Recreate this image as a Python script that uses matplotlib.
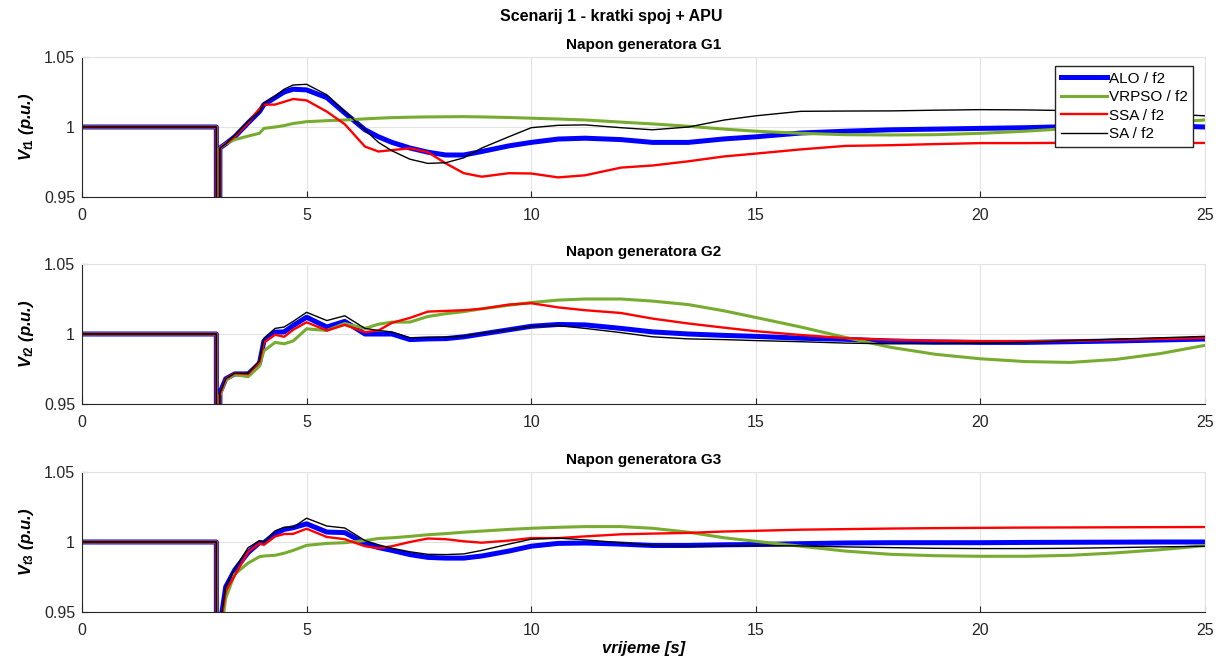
import numpy as np
import matplotlib
matplotlib.use("Agg")
import matplotlib.pyplot as plt

plt.rcParams['font.family'] = ['Liberation Sans', 'DejaVu Sans']
plt.rcParams['mathtext.fontset'] = 'custom'
plt.rcParams['mathtext.it'] = 'Liberation Sans:italic:bold'
plt.rcParams['mathtext.rm'] = 'Liberation Sans:bold'
plt.rcParams['mathtext.bf'] = 'Liberation Sans:bold'

# time samples (s)
t = [0, 2.99, 3.0, 3.05, 3.07, 3.2, 3.4, 3.7, 3.95, 4.05, 4.3, 4.5, 4.7, 5.0, 5.45, 5.85,
     6.3, 6.6, 6.9, 7.3, 7.7, 8.1, 8.5, 8.9, 9.5, 10.0, 10.6, 11.2, 12.0, 12.7, 13.5, 14.3,
     15.0, 16.0, 17.0, 18.0, 19.0, 20.0, 21.0, 22.0, 23.0, 24.0, 25.0]

# Generator G1
g1_alo = [1, 1, 0.3, 0.3, 0.985, 0.988, 0.993, 1.003, 1.011, 1.016, 1.021, 1.025, 1.027, 1.0265, 1.021, 1.010,
          0.998, 0.993, 0.989, 0.985, 0.982, 0.980, 0.980, 0.9825, 0.9865, 0.989, 0.9914, 0.992, 0.991, 0.989, 0.989, 0.9915,
          0.993, 0.9957, 0.997, 0.998, 0.9985, 0.999, 0.9995, 1.0003, 1.0007, 1.001, 1.0]
g1_vrpso = [1, 1, 0.3, 0.3, 0.985, 0.988, 0.991, 0.9935, 0.9955, 0.999, 1.0, 1.001, 1.0025, 1.0038, 1.0045, 1.005,
            1.0058, 1.0063, 1.0067, 1.007, 1.0072, 1.0073, 1.0074, 1.0072, 1.0068, 1.0063, 1.0057, 1.005, 1.0035, 1.0022, 1.0005, 0.9985,
            0.997, 0.9955, 0.9945, 0.9943, 0.9945, 0.9955, 0.997, 0.999, 1.001, 1.003, 1.005]
g1_ssa = [1, 1, 0.3, 0.3, 0.985, 0.988, 0.993, 1.003, 1.013, 1.016, 1.016, 1.018, 1.020, 1.019, 1.011, 1.002,
          0.986, 0.9825, 0.9835, 0.9848, 0.982, 0.974, 0.967, 0.9645, 0.967, 0.9668, 0.964, 0.9655, 0.971, 0.9725, 0.9755, 0.979,
          0.981, 0.984, 0.9865, 0.987, 0.9878, 0.9885, 0.9885, 0.9887, 0.9887, 0.9886, 0.9886]
g1_sa = [1, 1, 0.3, 0.3, 0.985, 0.988, 0.994, 1.004, 1.011, 1.017, 1.022, 1.027, 1.030, 1.0305, 1.023, 1.011,
         0.998, 0.989, 0.983, 0.977, 0.974, 0.9745, 0.978, 0.985, 0.993, 0.9995, 1.0012, 1.0015, 0.9995, 0.998, 1.0, 1.005,
         1.008, 1.0112, 1.0114, 1.0115, 1.012, 1.0124, 1.0122, 1.0117, 1.011, 1.0095, 1.008]

# Generator G2
g2_alo = [1, 1, 0.3, 0.3, 0.958, 0.968, 0.9715, 0.9715, 0.979, 0.995, 1.0013, 1.0015, 1.006, 1.012, 1.005, 1.009,
          1.0, 1.0, 1.0, 0.996, 0.9965, 0.9967, 0.998, 1.0, 1.003, 1.0055, 1.0068, 1.0065, 1.004, 1.0015, 1.0, 0.999,
          0.9983, 0.997, 0.9962, 0.995, 0.9943, 0.994, 0.994, 0.9945, 0.995, 0.9957, 0.9964]
g2_vrpso = [1, 1, 0.3, 0.3, 0.956, 0.967, 0.971, 0.9695, 0.977, 0.988, 0.994, 0.993, 0.995, 1.0037, 1.0025, 1.0075,
            1.004, 1.007, 1.0085, 1.0085, 1.0125, 1.0145, 1.016, 1.018, 1.0205, 1.0225, 1.0242, 1.025, 1.025, 1.0235, 1.021, 1.0165,
            1.0118, 1.005, 0.9975, 0.9905, 0.9855, 0.9823, 0.9803, 0.9797, 0.9818, 0.986, 0.9919]
g2_ssa = [1, 1, 0.3, 0.3, 0.957, 0.968, 0.972, 0.9715, 0.980, 0.994, 0.9995, 0.998, 1.003, 1.0084, 1.0025, 1.0065,
          1.0013, 1.0025, 1.008, 1.0115, 1.016, 1.0165, 1.017, 1.018, 1.021, 1.022, 1.019, 1.017, 1.015, 1.011, 1.0075, 1.0045,
          1.002, 0.9993, 0.997, 0.9958, 0.9952, 0.9948, 0.9948, 0.995, 0.9958, 0.9965, 0.9972]
g2_sa = [1, 1, 0.3, 0.3, 0.958, 0.968, 0.972, 0.972, 0.981, 0.997, 1.004, 1.005, 1.009, 1.0155, 1.0096, 1.013,
         1.004, 1.0025, 1.0015, 0.9973, 0.9975, 0.9977, 0.9985, 1.0005, 1.003, 1.0055, 1.006, 1.004, 1.001, 0.998, 0.9965, 0.996,
         0.9953, 0.9945, 0.9935, 0.993, 0.993, 0.9935, 0.994, 0.9952, 0.9963, 0.9973, 0.9983]

# Generator G3
g3_alo = [1, 1, 0.3, 0.3, 0.940, 0.968, 0.980, 0.9925, 0.9995, 0.9995, 1.006, 1.009, 1.0102, 1.013, 1.0071, 1.0067,
          0.999, 0.996, 0.994, 0.991, 0.989, 0.9885, 0.9885, 0.990, 0.9935, 0.997, 0.999, 0.9993, 0.9985, 0.9975, 0.9975, 0.998,
          0.9982, 0.9988, 0.9993, 0.9995, 0.9995, 0.9995, 0.9997, 0.9998, 0.9999, 1.0, 1.0]
g3_vrpso = [1, 1, 0.3, 0.3, 0.930, 0.960, 0.977, 0.985, 0.9895, 0.990, 0.9905, 0.992, 0.994, 0.9976, 0.999, 0.9995,
            1.001, 1.0025, 1.003, 1.004, 1.0052, 1.006, 1.007, 1.0078, 1.009, 1.0098, 1.0105, 1.011, 1.011, 1.0098, 1.007, 1.003,
            1.0005, 0.997, 0.9935, 0.9912, 0.9902, 0.9898, 0.9898, 0.9905, 0.9922, 0.9945, 0.9974]
g3_ssa = [1, 1, 0.3, 0.3, 0.938, 0.965, 0.976, 0.993, 0.999, 0.998, 1.004, 1.0057, 1.0058, 1.0095, 1.0036, 1.002,
          0.997, 0.9955, 0.997, 1.0, 1.0025, 1.002, 1.0005, 0.9995, 1.001, 1.0028, 1.0028, 1.004, 1.0055, 1.006, 1.0065, 1.0075,
          1.008, 1.0088, 1.0092, 1.0096, 1.0099, 1.0101, 1.0103, 1.0104, 1.0105, 1.0106, 1.0107]
g3_sa = [1, 1, 0.3, 0.3, 0.940, 0.968, 0.981, 0.996, 1.001, 1.0, 1.008, 1.0105, 1.0105, 1.017, 1.0114, 1.010,
         1.001, 0.998, 0.9955, 0.993, 0.9912, 0.991, 0.9915, 0.994, 0.9985, 1.002, 1.0028, 1.0015, 0.9995, 0.9975, 0.997, 0.9972,
         0.9974, 0.9972, 0.9965, 0.996, 0.9955, 0.9953, 0.9953, 0.9955, 0.996, 0.9965, 0.997]

labels = ['ALO / f2', 'VRPSO / f2', 'SSA / f2', 'SA / f2']
colors = ['#0000FF', '#77AC30', '#FF0000', '#000000']
widths = [3.6, 2.2, 1.7, 1.0]
titles = ['Napon generatora G1', 'Napon generatora G2', 'Napon generatora G3']
ylabels = [r'$V_{t1}$ (p.u.)', r'$V_{t2}$ (p.u.)', r'$V_{t3}$ (p.u.)']
data = [[g1_alo, g1_vrpso, g1_ssa, g1_sa],
        [g2_alo, g2_vrpso, g2_ssa, g2_sa],
        [g3_alo, g3_vrpso, g3_ssa, g3_sa]]
xticks = [0, 5, 10, 15, 20, 25]
yticks = [0.95, 1.0, 1.05]
yticklabels = ['0.95', '1', '1.05']

W, H = 1223, 669
fig = plt.figure(figsize=(W / 100, H / 100), dpi=100)
left = 82 / W
width = (1205 - 82) / W
tops = [57, 264, 472]
h = 140
axes = []
for i in range(3):
    ax = fig.add_axes([left, 1 - (tops[i] + h) / H, width, h / H])
    for s in range(4):
        ax.plot(t, data[i][s], color=colors[s], lw=widths[s], label=labels[s],
                solid_joinstyle='round')
    ax.set_xlim(0, 25)
    ax.set_ylim(0.95, 1.05)
    ax.set_xticks(xticks)
    ax.set_yticks(yticks)
    ax.set_yticklabels(yticklabels)
    ax.grid(True, color='#E3E3E3', lw=0.8)
    ax.set_axisbelow(True)
    ax.tick_params(direction='in', length=4, labelsize=11.5, colors='#262626',
                   top=False, right=False, width=0.8)
    ax.tick_params(axis='x', pad=8)
    ax.tick_params(axis='y', pad=5)
    for sp in ax.spines.values():
        sp.set_color('#262626')
        sp.set_linewidth(0.8)
    ax.spines['top'].set_color('#E3E3E3')
    ax.spines['right'].set_color('#E3E3E3')
    ax.set_title(titles[i], fontsize=11, fontweight='bold', pad=6, color='#000000')
    ax.set_ylabel(ylabels[i], fontsize=12, fontweight='bold', fontstyle='italic', labelpad=6)
    axes.append(ax)

axes[0].legend(loc='upper right', fontsize=11, frameon=True, fancybox=False,
               edgecolor='#262626', framealpha=1, handlelength=3.0, handletextpad=0.15,
               borderpad=0.35, labelspacing=0.3, borderaxespad=0.6,
               bbox_to_anchor=(0.9975, 1.0))
axes[2].set_xlabel('vrijeme [s]', fontsize=12, fontweight='bold', fontstyle='italic', labelpad=2)
fig.suptitle('Scenarij 1 - kratki spoj + APU', fontsize=11.5, fontweight='bold', y=1 - 17 / H, va='center')

fig.savefig('out.png', dpi=100)
